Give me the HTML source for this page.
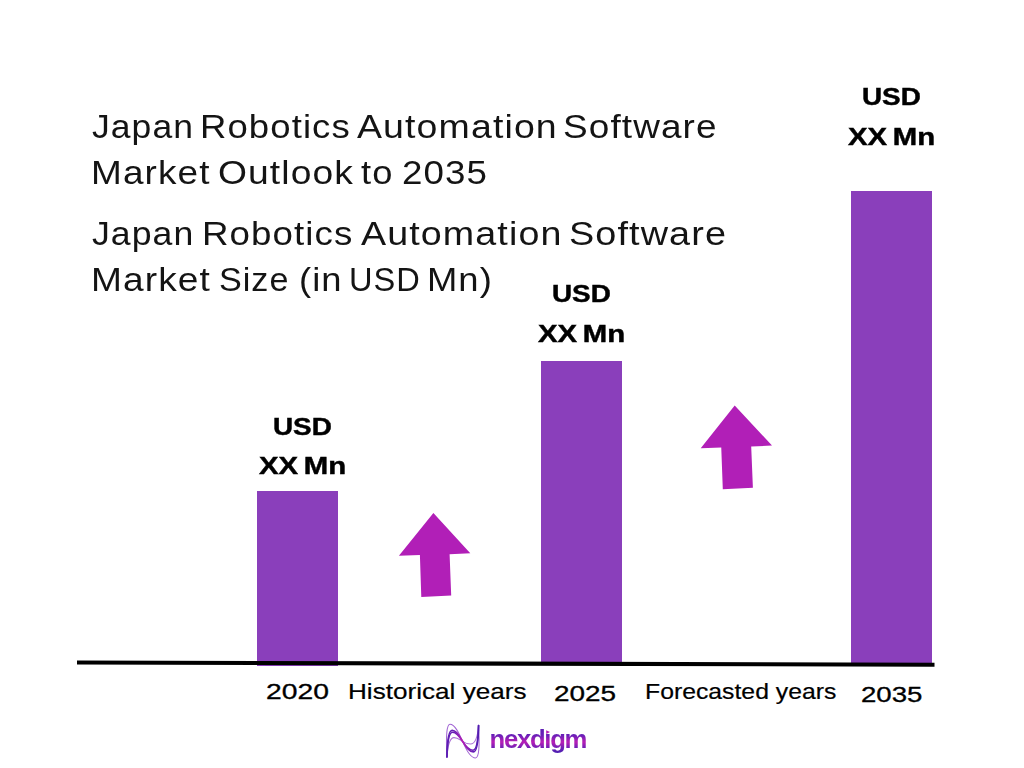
<!DOCTYPE html>
<html>
<head>
<meta charset="utf-8">
<title>Japan Robotics Automation Software Market</title>
<style>
html,body{margin:0;padding:0;background:#fff;}
body{width:1024px;height:768px;position:relative;overflow:hidden;font-family:"Liberation Sans",sans-serif;color:#111;}
.t{position:absolute;white-space:nowrap;line-height:1;transform-origin:0 0;}
.title{font-size:33.5px;color:#141414;}
.lab{font-weight:bold;font-size:24px;color:#000;-webkit-text-stroke:0.45px #000;}
.ax{font-size:22px;color:#000;-webkit-text-stroke:0.2px #000;}
.bar{position:absolute;background:#8a3fbb;}
svg{position:absolute;left:0;top:0;}
</style>
</head>
<body>
<!-- bars -->
<div class="bar" id="b1" style="left:257px;top:490.8px;width:80.5px;height:175px;"></div>
<div class="bar" id="b2" style="left:541px;top:360.8px;width:80.6px;height:302.2px;"></div>
<div class="bar" id="b3" style="left:851px;top:190.9px;width:81px;height:472.3px;"></div>

<svg width="1024" height="768" viewBox="0 0 1024 768">
  <!-- axis line -->
  <polygon points="77,660.5 934.5,662.7 934.5,666.7 77,664.6" fill="#000"/>
  <!-- arrows -->
  <polygon id="a1" fill="#b11fb7" points="433.4,513.1 470.3,553.2 449.6,554.2 451.2,595.5 421.3,597.1 419.9,555.1 398.9,555.8"/>
  <polygon id="a2" fill="#b11fb7" points="734.7,405.5 772,445.6 751.2,446.5 752.9,487.8 722.8,489.2 721.25,447.5 700.7,448.2"/>
</svg>

<!-- titles -->
<span class="t title" id="w0_0" style="left:92.0px;top:109.6px;font-size:33.5px;letter-spacing:1.0px;transform:scaleX(1.060);">Japan</span>
<span class="t title" id="w0_1" style="left:199.8px;top:109.6px;font-size:33.5px;letter-spacing:1.0px;transform:scaleX(1.090);">Robotics</span>
<span class="t title" id="w0_2" style="left:357.2px;top:109.6px;font-size:33.5px;letter-spacing:1.0px;transform:scaleX(1.119);">Automation</span>
<span class="t title" id="w0_3" style="left:563.4px;top:109.6px;font-size:33.5px;letter-spacing:1.0px;transform:scaleX(1.103);">Software</span>
<span class="t title" id="w1_0" style="left:91.4px;top:155.5px;font-size:33.5px;letter-spacing:1.0px;transform:scaleX(1.103);">Market</span>
<span class="t title" id="w1_1" style="left:217.5px;top:155.5px;font-size:33.5px;letter-spacing:1.0px;transform:scaleX(1.111);">Outlook</span>
<span class="t title" id="w1_2" style="left:361.2px;top:155.5px;font-size:33.5px;letter-spacing:1.0px;transform:scaleX(1.084);">to</span>
<span class="t title" id="w1_3" style="left:401.9px;top:155.5px;font-size:33.5px;letter-spacing:1.0px;transform:scaleX(1.096);">2035</span>
<span class="t title" id="w2_0" style="left:92.1px;top:216px;font-size:34px;letter-spacing:1.0px;transform:scaleX(1.048);">Japan</span>
<span class="t title" id="w2_1" style="left:201.5px;top:216px;font-size:34px;letter-spacing:1.0px;transform:scaleX(1.079);">Robotics</span>
<span class="t title" id="w2_2" style="left:361.4px;top:216px;font-size:34px;letter-spacing:1.0px;transform:scaleX(1.107);">Automation</span>
<span class="t title" id="w2_3" style="left:569.0px;top:216px;font-size:34px;letter-spacing:1.0px;transform:scaleX(1.112);">Software</span>
<span class="t title" id="w3_0" style="left:91.4px;top:262px;font-size:34px;letter-spacing:1.0px;transform:scaleX(1.091);">Market</span>
<span class="t title" id="w3_1" style="left:219.2px;top:262px;font-size:34px;letter-spacing:1.0px;transform:scaleX(1.004);">Size</span>
<span class="t title" id="w3_2" style="left:298.8px;top:262px;font-size:34px;letter-spacing:1.0px;transform:scaleX(1.069);">(in</span>
<span class="t title" id="w3_3" style="left:349.1px;top:262px;font-size:34px;letter-spacing:1.0px;transform:scaleX(0.958);">USD</span>
<span class="t title" id="w3_4" style="left:427.4px;top:262px;font-size:34px;letter-spacing:1.0px;transform:scaleX(1.070);">Mn)</span>

<!-- bar labels -->
<span class="t lab" id="l1a" style="left:273.3px;top:414.5px;transform:scaleX(1.16);">USD</span>
<span class="t lab" id="l1b" style="left:259.1px;top:454px;word-spacing:-2px;transform:scaleX(1.222);">XX Mn</span>
<span class="t lab" id="l2a" style="left:551.7px;top:281.5px;transform:scaleX(1.16);">USD</span>
<span class="t lab" id="l2b" style="left:538.1px;top:321.5px;word-spacing:-2px;transform:scaleX(1.222);">XX Mn</span>
<span class="t lab" id="l3a" style="left:861.7px;top:84.5px;transform:scaleX(1.16);">USD</span>
<span class="t lab" id="l3b" style="left:848.1px;top:124.5px;word-spacing:-2px;transform:scaleX(1.222);">XX Mn</span>

<!-- axis labels -->
<span class="t ax" id="x1" style="-webkit-text-stroke:0.32px #000;left:266px;top:679px;font-size:22.8px;transform:translateY(0.5px) scaleX(1.24);">2020</span>
<span class="t ax" id="x2" style="left:348.2px;top:681px;font-size:22.1px;transform:translateY(0.2px) scaleX(1.182);">Historical years</span>
<span class="t ax" id="x3" style="-webkit-text-stroke:0.32px #000;left:553.6px;top:681px;font-size:22.8px;transform:translateY(1.3px) scaleX(1.225);">2025</span>
<span class="t ax" id="x4" style="left:644.8px;top:681px;font-size:21.4px;transform:translateY(1px) scaleX(1.158);">Forecasted years</span>
<span class="t ax" id="x5" style="-webkit-text-stroke:0.32px #000;left:861.1px;top:682px;font-size:22.8px;transform:translateY(1px) scaleX(1.212);">2035</span>

<!-- logo -->
<svg width="1024" height="768" viewBox="0 0 1024 768" style="pointer-events:none">
  <defs>
    <linearGradient id="lg" x1="446" y1="0" x2="479" y2="0" gradientUnits="userSpaceOnUse">
      <stop offset="0" stop-color="#5a1eb2"/>
      <stop offset="0.25" stop-color="#6a1eb6"/>
      <stop offset="0.5" stop-color="#b51fb6"/>
      <stop offset="0.8" stop-color="#6a1eb6"/>
      <stop offset="1" stop-color="#4f1cb0"/>
    </linearGradient>
  </defs>
  <g fill="none" stroke-linecap="round">
    <path d="M446.9,757 C445.8,735 446.8,724.3 450,724.3 C455,724.3 459,733 462.6,741.4 C467,752 471,758 475.5,758 C479.3,758 479.6,745 478.6,725.5" stroke="#a266d4" stroke-width="1.05"/>
    <path d="M446.9,757 C447.8,745 450,737.6 454,737.6 C458,737.6 460,740 462.6,741.4 C465,743 467.5,744 470.5,744 C475,744 477.6,738 478.6,725.5" stroke="#ac70d6" stroke-width="1.05"/>
    <path d="M446.9,757 C447.1,739.6 448.8,730.4 452.2,730.4 C456.8,730.4 460,736.6 462.6,741.2 C466,747.2 469,751.9 473.4,751.9 C477.2,751.9 478.4,740 478.6,725.5" stroke="url(#lg)" stroke-width="1.6"/>
    <path d="M447,757 C447.5,741 449.3,732.3 452.6,732.3 C456.6,732.3 460,737.4 462.6,741.6 C466,746.6 469,750.2 473,750.2 C476.6,750.2 478.1,740 478.5,725.5" stroke="url(#lg)" stroke-width="1.6"/>
  </g>
  <polygon points="546.2,730.2 550,732.1 546.2,734" fill="#b81fb6"/>
</svg>
<span class="t" id="logo" style="left:489.6px;top:727.1px;font-size:25.7px;font-weight:bold;letter-spacing:-1.3px;background:linear-gradient(180deg,#5a1eb4 0%,#6a1fb8 32%,#b81fb6 58%,#6a1fb6 82%,#4a1eb0 100%);-webkit-background-clip:text;background-clip:text;color:transparent;-webkit-text-fill-color:transparent;">nexd&#305;gm</span>
</body>
</html>
